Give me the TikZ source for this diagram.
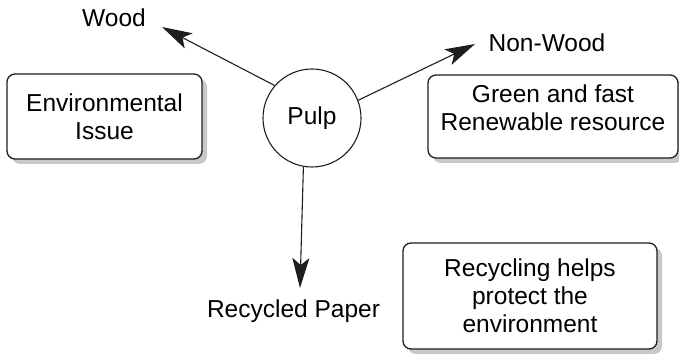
\documentclass[tikz,border=0pt]{standalone}
\usepackage{fontspec}
\setmainfont{Liberation Sans}
\usetikzlibrary{arrows.meta}
\usetikzlibrary{shadows}
\definecolor{shadowgray}{RGB}{200,200,200}
\definecolor{edge}{RGB}{30,30,30}

\begin{document}
\begin{tikzpicture}[x=1pt, y=-1pt, font=\fontsize{24.5}{28}\selectfont,
	infobox/.style={draw=edge, line width=1.3pt, rounded corners=8pt, fill=white, align=center, inner sep=0pt,
		drop shadow={shadow xshift=5pt, shadow yshift=-5pt, fill=shadowgray, opacity=1}},
	flow/.style={draw=edge, line width=1.1pt, -{Stealth[length=30pt, width=17pt, inset=7pt]}}]
	\useasboundingbox (0,0) rectangle (679,355);

	% centre and the three sources
	\node[circle, draw=edge, line width=1.1pt, minimum size=98pt, inner sep=0pt] (pulp) at (312,118) {Pulp};
	\node[anchor=base] (wood) at (114,27) {Wood};
	\node[anchor=base] (nonwood) at (547,52) {Non-Wood};
	\node[anchor=base] (recycled) at (293.5,317) {Recycled Paper};
	\coordinate (woodtip) at (162,27);
	\coordinate (nonwoodtip) at (475,44);
	\coordinate (recycledtip) at (300,288);

	% notes
	\node[infobox, minimum width=195pt, minimum height=85pt] (envbox) at (104.5,116.5) {Environmental\\Issue};
	\node[infobox, minimum width=250pt, minimum height=83pt, text depth=17pt] (greenbox) at (553,116.5) {Green and fast\\Renewable resource};
	\node[infobox, minimum width=254pt, minimum height=106pt] (recbox) at (530,296) {Recycling helps\\protect the\\environment};

	\draw[flow] (pulp.139) -- (woodtip);
	\draw[flow] (pulp.21) -- (nonwoodtip);
	\draw[flow] (pulp.260) -- (recycledtip);
\end{tikzpicture}
\end{document}
